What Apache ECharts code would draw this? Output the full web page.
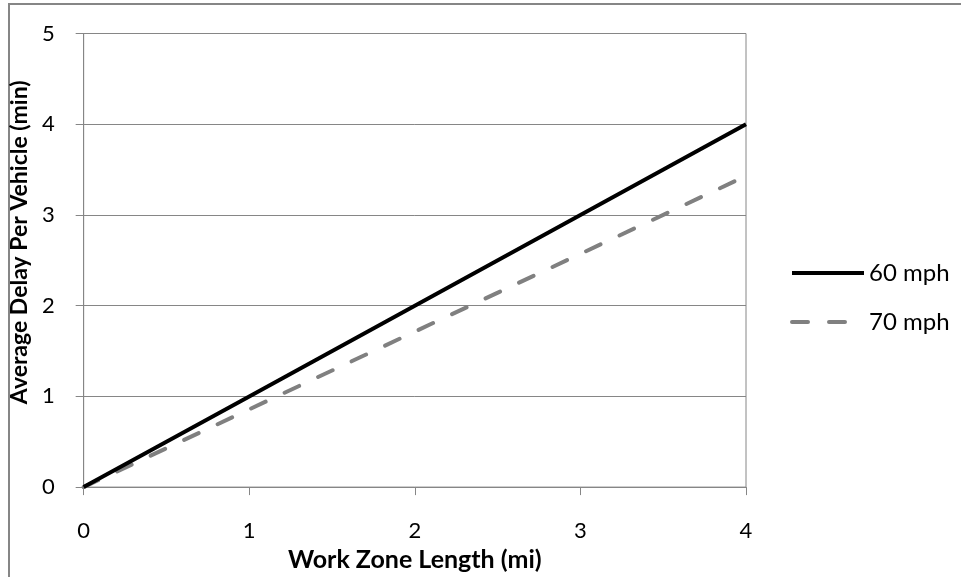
<!DOCTYPE html>
<html><head><meta charset="utf-8">
<script src="https://cdn.jsdelivr.net/npm/echarts@6/dist/echarts.min.js"></script>
<style>html,body{margin:0;padding:0;background:#fff}#c{width:961px;height:577px}</style>
</head><body><div id="c"></div>
<script>
const lengths = [0, 1, 2, 3, 4];
const delay60 = [0, 1.0, 2.0, 3.0, 4.0];
const delay70 = [0, 0.857, 1.714, 2.571, 3.43];
const xTicks = [0, 1, 2, 3, 4];
const yTicks = [0, 1, 2, 3, 4, 5];
const seriesNames = ['60 mph', '70 mph'];

const chart = echarts.init(document.getElementById('c'));
const font = 'Lato, "Open Sans", sans-serif';
chart.setOption({
  animation: false,
  textStyle: {fontFamily: font},
  graphic: [{type: 'rect', shape: {x: 9, y: 4, width: 1000, height: 1000},
    style: {fill: 'none', stroke: '#868686', lineWidth: 2}, silent: true, z: -1}],
  grid: {left: 82, right: 215, top: 33.5, bottom: 83, show: true, borderColor: '#868686', borderWidth: 1},
  legend: {
    orient: 'vertical', left: 785, top: 256, itemGap: 25, itemWidth: 72, itemHeight: 14,
    itemStyle: {opacity: 0},
    lineStyle: {width: 4},
    textStyle: {fontSize: 24, fontFamily: font, color: '#000'},
    data: seriesNames
  },
  xAxis: {
    type: 'value', min: 0, max: 4, interval: 1,
    name: 'Work Zone Length (mi)', nameLocation: 'middle', nameGap: 54,
    nameTextStyle: {fontSize: 25, fontWeight: 'bold', color: '#000', fontFamily: font},
    axisLine: {show: true, lineStyle: {color: '#868686'}},
    axisTick: {show: true, length: 8, lineStyle: {color: '#868686'}},
    axisLabel: {fontSize: 22, color: '#000', margin: 33, fontFamily: font,
      formatter: v => xTicks.includes(v) ? String(v) : ''},
    splitLine: {show: false}
  },
  yAxis: {
    type: 'value', min: 0, max: 5, interval: 1,
    name: 'Average Delay Per Vehicle (min)', nameLocation: 'middle', nameGap: 39, nameRotate: 90,
    nameTextStyle: {fontSize: 23, fontWeight: 'bold', color: '#000', fontFamily: font, padding: [0, 0, 0, 36]},
    axisLine: {show: true, lineStyle: {color: '#868686'}},
    axisTick: {show: true, length: 8, lineStyle: {color: '#868686'}},
    axisLabel: {fontSize: 22, color: '#000', margin: 29, fontFamily: font,
      formatter: v => yTicks.includes(v) ? String(v) : ''},
    splitLine: {show: true, lineStyle: {color: '#868686', width: 1}}
  },
  series: [
    {name: seriesNames[0], type: 'line', data: lengths.map((x, i) => [x, delay60[i]]),
      showSymbol: false, symbol: 'none', color: '#000',
      lineStyle: {color: '#000', width: 4}, z: 3},
    {name: seriesNames[1], type: 'line', data: lengths.map((x, i) => [x, delay70[i]]),
      showSymbol: false, symbol: 'none', color: '#808080',
      lineStyle: {color: '#808080', width: 4, type: [16, 21], cap: 'round'}, z: 2}
  ]
});
</script></body></html>
